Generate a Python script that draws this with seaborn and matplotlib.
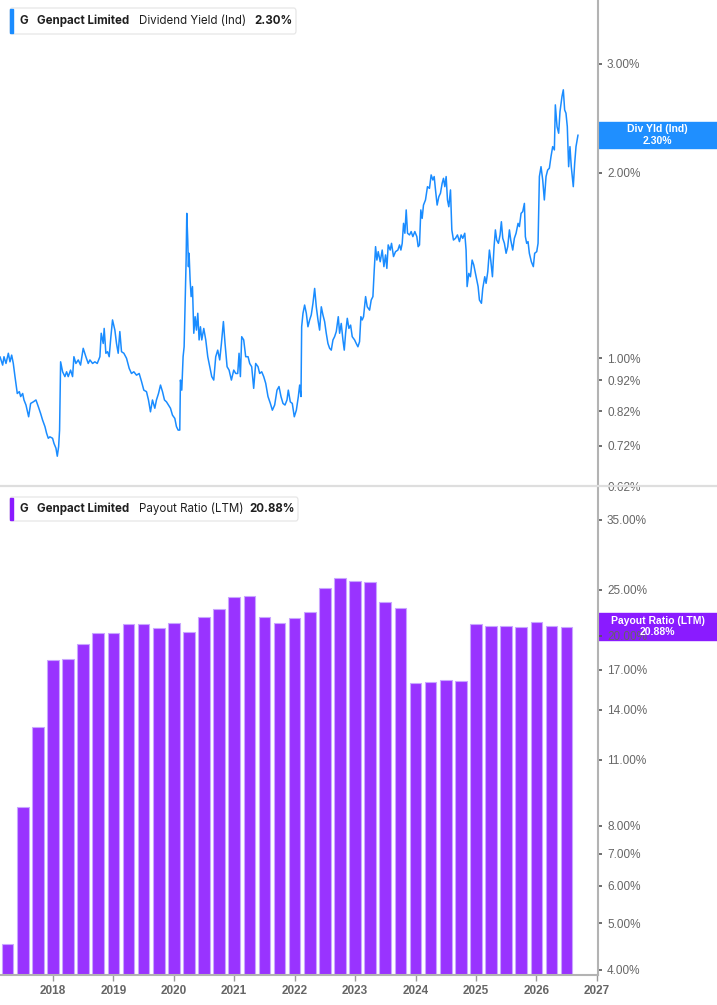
import matplotlib
matplotlib.use("Agg")
import matplotlib.pyplot as plt
import seaborn as sns
from matplotlib.patches import Rectangle, FancyBboxPatch
from matplotlib.lines import Line2D
from matplotlib.ticker import FixedLocator, NullLocator, FuncFormatter

# ---------------- data ----------------
yield_years = [
    2017.124, 2017.168, 2017.190, 2017.223, 2017.262, 2017.289, 2017.317, 2017.344, 2017.372, 2017.410,
    2017.444, 2017.466, 2017.499, 2017.521, 2017.554, 2017.598, 2017.631, 2017.675, 2017.719, 2017.758,
    2017.796, 2017.829, 2017.868, 2017.895, 2017.923, 2017.950, 2017.994, 2018.017, 2018.050, 2018.072,
    2018.094, 2018.110, 2018.127, 2018.160, 2018.198, 2018.226, 2018.253, 2018.292, 2018.325, 2018.347,
    2018.380, 2018.419, 2018.457, 2018.501, 2018.545, 2018.584, 2018.612, 2018.656, 2018.694, 2018.733,
    2018.777, 2018.799, 2018.832, 2018.848, 2018.876, 2018.904, 2018.931, 2018.959, 2018.986, 2019.025,
    2019.052, 2019.080, 2019.107, 2019.135, 2019.174, 2019.218, 2019.262, 2019.300, 2019.339, 2019.383,
    2019.427, 2019.466, 2019.504, 2019.548, 2019.581, 2019.614, 2019.647, 2019.686, 2019.713, 2019.747,
    2019.780, 2019.813, 2019.846, 2019.879, 2019.912, 2019.945, 2019.978, 2020.017, 2020.044, 2020.072,
    2020.099, 2020.110, 2020.132, 2020.154, 2020.171, 2020.187, 2020.204, 2020.215, 2020.231, 2020.242,
    2020.253, 2020.270, 2020.287, 2020.309, 2020.331, 2020.353, 2020.375, 2020.397, 2020.419, 2020.441,
    2020.463, 2020.496, 2020.529, 2020.562, 2020.595, 2020.628, 2020.661, 2020.694, 2020.727, 2020.760,
    2020.788, 2020.821, 2020.848, 2020.882, 2020.915, 2020.953, 2020.992, 2021.025, 2021.058, 2021.080,
    2021.102, 2021.124, 2021.157, 2021.190, 2021.229, 2021.256, 2021.289, 2021.322, 2021.355, 2021.394,
    2021.421, 2021.455, 2021.488, 2021.521, 2021.559, 2021.598, 2021.631, 2021.669, 2021.708, 2021.741,
    2021.774, 2021.807, 2021.840, 2021.873, 2021.895, 2021.928, 2021.961, 2021.994, 2022.028, 2022.061,
    2022.083, 2022.105, 2022.116,
    2022.138, 2022.165, 2022.193, 2022.220, 2022.248, 2022.275, 2022.303, 2022.331, 2022.358, 2022.386,
    2022.413, 2022.441, 2022.468, 2022.496, 2022.523, 2022.551, 2022.579, 2022.606, 2022.634, 2022.661,
    2022.689, 2022.722, 2022.744, 2022.771, 2022.799, 2022.821, 2022.843, 2022.871, 2022.898, 2022.926,
    2022.953, 2022.992, 2023.019, 2023.047, 2023.074, 2023.096, 2023.118, 2023.140, 2023.174, 2023.201,
    2023.240, 2023.267, 2023.295, 2023.317, 2023.339, 2023.361, 2023.383, 2023.416, 2023.449, 2023.477,
    2023.504, 2023.526, 2023.548, 2023.581, 2023.603, 2023.636, 2023.669, 2023.708, 2023.736, 2023.758,
    2023.780, 2023.802, 2023.824, 2023.846, 2023.868, 2023.901, 2023.928, 2023.956, 2023.989, 2024.022,
    2024.044, 2024.066, 2024.088, 2024.110, 2024.132, 2024.165, 2024.198, 2024.231, 2024.259, 2024.287,
    2024.309, 2024.331, 2024.358, 2024.386, 2024.413, 2024.441, 2024.463, 2024.485, 2024.507, 2024.529,
    2024.551, 2024.579, 2024.601, 2024.628, 2024.661, 2024.694, 2024.727, 2024.755, 2024.782, 2024.815,
    2024.837, 2024.854, 2024.882, 2024.909, 2024.937, 2024.964, 2024.992, 2025.014, 2025.036, 2025.058,
    2025.091, 2025.113, 2025.146, 2025.168, 2025.196, 2025.223, 2025.245, 2025.273, 2025.300, 2025.322,
    2025.344, 2025.372, 2025.399, 2025.421, 2025.444, 2025.471, 2025.499, 2025.526, 2025.554, 2025.576,
    2025.609, 2025.636, 2025.664, 2025.697, 2025.719, 2025.747, 2025.774, 2025.802, 2025.818, 2025.840,
    2025.862, 2025.884, 2025.917, 2025.950, 2025.972, 2026.006, 2026.028, 2026.050, 2026.077, 2026.105,
    2026.132, 2026.160, 2026.187, 2026.215, 2026.242, 2026.270, 2026.298, 2026.314, 2026.342, 2026.369,
    2026.391, 2026.424, 2026.446, 2026.468, 2026.490, 2026.512, 2026.534, 2026.556, 2026.578, 2026.611,
    2026.634, 2026.656, 2026.689,
]
yield_pct = [
    1.005, 0.974, 1.005, 0.980, 1.018, 0.986, 1.011, 0.980, 0.933, 0.876,
    0.882, 0.866, 0.876, 0.855, 0.839, 0.803, 0.844, 0.849, 0.855, 0.834,
    0.813, 0.793, 0.774, 0.755, 0.741, 0.745, 0.741, 0.727, 0.714, 0.693,
    0.718, 0.764, 0.986, 0.950, 0.933, 0.950, 0.933, 0.956, 0.933, 1.005,
    0.980, 0.993, 0.974, 1.037, 1.005, 0.980, 0.993, 0.980, 0.986, 0.980,
    1.005, 1.097, 1.056, 1.117, 1.018, 1.024, 1.005, 1.083, 1.153, 1.110,
    1.056, 1.018, 1.104, 1.024, 1.018, 0.999, 0.962, 0.944, 0.950, 0.938,
    0.944, 0.916, 0.887, 0.882, 0.855, 0.818, 0.855, 0.829, 0.855, 0.876,
    0.904, 0.882, 0.855, 0.849, 0.839, 0.829, 0.808, 0.798, 0.774, 0.764,
    0.764, 0.921, 0.887, 1.005, 1.043, 1.211, 1.442, 1.717, 1.554, 1.407,
    1.479, 1.339, 1.258, 1.306, 1.097, 1.167, 1.110, 1.182, 1.070, 1.124,
    1.070, 1.117, 1.070, 1.005, 0.968, 0.933, 0.921, 1.005, 1.030, 0.993,
    1.056, 1.146, 1.056, 0.968, 0.956, 0.921, 0.956, 0.944, 0.944, 1.018,
    0.933, 1.083, 1.070, 1.005, 1.005, 0.980, 0.968, 0.893, 0.980, 0.968,
    0.944, 0.950, 0.933, 0.910, 0.866, 0.844, 0.823, 0.839, 0.887, 0.899,
    0.866, 0.844, 0.839, 0.855, 0.887, 0.849, 0.844, 0.803, 0.823, 0.866,
    0.904, 0.866, 1.124,
    1.182, 1.219, 1.182, 1.124, 1.153, 1.175, 1.227, 1.297, 1.211, 1.153,
    1.110, 1.211, 1.175, 1.146, 1.097, 1.056, 1.037, 1.030, 1.070, 1.083,
    1.104, 1.167, 1.097, 1.138, 1.070, 1.030, 1.097, 1.160, 1.117, 1.131,
    1.083, 1.070, 1.056, 1.043, 1.063, 1.167, 1.153, 1.167, 1.258, 1.211,
    1.196, 1.242, 1.258, 1.389, 1.516, 1.442, 1.488, 1.433, 1.497, 1.407,
    1.470, 1.398, 1.526, 1.497, 1.535, 1.461, 1.488, 1.497, 1.526, 1.497,
    1.535, 1.654, 1.594, 1.739, 1.594, 1.584, 1.604, 1.574, 1.604, 1.574,
    1.516, 1.526, 1.739, 1.685, 1.771, 1.805, 1.897, 1.885, 1.982, 1.945,
    1.970, 1.874, 1.771, 1.827, 1.851, 1.921, 1.957, 1.897, 1.970, 1.805,
    1.760, 1.874, 1.614, 1.554, 1.564, 1.584, 1.545, 1.584, 1.564, 1.594,
    1.497, 1.306, 1.372, 1.355, 1.442, 1.416, 1.372, 1.339, 1.306, 1.242,
    1.227, 1.297, 1.355, 1.322, 1.381, 1.497, 1.442, 1.355, 1.516, 1.614,
    1.554, 1.535, 1.584, 1.664, 1.564, 1.535, 1.479, 1.516, 1.614, 1.554,
    1.497, 1.564, 1.594, 1.654, 1.634, 1.717, 1.728, 1.782, 1.574, 1.535,
    1.545, 1.479, 1.433, 1.407, 1.479, 1.488, 1.535, 1.970, 2.044, 1.945,
    1.805, 1.970, 2.019, 2.032, 2.122, 2.203, 2.176, 2.575, 2.374, 2.316,
    2.511, 2.657, 2.724, 2.527, 2.496, 2.374, 2.044, 2.203, 2.044, 1.897,
    2.070, 2.203, 2.301,
]

bar_years = [
    2017.25, 2017.50, 2017.75, 2018.00, 2018.25, 2018.50, 2018.75, 2019.00,
    2019.25, 2019.50, 2019.75, 2020.00, 2020.25, 2020.50, 2020.75, 2021.00,
    2021.25, 2021.50, 2021.75, 2022.00, 2022.25, 2022.50, 2022.75, 2023.00,
    2023.25, 2023.50, 2023.75, 2024.00, 2024.25, 2024.50, 2024.75, 2025.00,
    2025.25, 2025.50, 2025.75, 2026.00, 2026.25, 2026.50,
]
payout_pct = [
    4.53, 8.78, 12.9, 17.8, 17.9, 19.2, 20.25, 20.3,
    21.2, 21.2, 20.8, 21.3, 20.4, 21.9, 22.8, 24.1,
    24.2, 21.9, 21.3, 21.8, 22.4, 25.2, 26.5, 26.0,
    25.9, 23.6, 22.9, 15.9, 16.0, 16.2, 16.1, 21.2,
    21.0, 21.0, 20.9, 21.4, 21.0, 20.88,
]

year_ticks = [2018, 2019, 2020, 2021, 2022, 2023, 2024, 2025, 2026, 2027]
yield_ticks = [0.62, 0.72, 0.82, 0.92, 1.00, 2.00, 3.00]
payout_ticks = [4, 5, 6, 7, 8, 11, 14, 17, 20, 25, 35]

company = "Genpact Limited"
ticker = "G"
yield_name = "Dividend Yield (Ind)"
yield_short = "Div Yld (Ind)"
payout_name = "Payout Ratio (LTM)"

# ---------------- style ----------------
LINE_C = "#1a8cff"
BAR_C = "#9933ff"
EDGE_C = "#c9a6ff"
PURPLE_BOX = "#8a1bff"
BLUE_BOX = "#1f8fff"
AXIS_C = "#b3b3b3"
LABEL_C = "#666666"

sns.set_theme(style="white")
plt.rcParams['font.family'] = ['Liberation Sans', 'DejaVu Sans']

W, H = 717, 1005
fig = plt.figure(figsize=(W / 100, H / 100), dpi=100)


def fx(p):
    return p / W


def fy(p):
    return 1 - p / H


ax1 = fig.add_axes([0, fy(486), fx(598), 486 / H])
ax2 = fig.add_axes([0, fy(975), fx(598), (975 - 487) / H])

XMIN, XMAX = 2017.124, 2027.02

sns.lineplot(x=yield_years, y=yield_pct, ax=ax1, color=LINE_C, linewidth=1.1,
             estimator=None, sort=False)
ax1.set_yscale('log')
ax1.set_ylim(0.62, 3.81)
ax1.set_xlim(XMIN, XMAX)

sns.barplot(x=bar_years, y=payout_pct, ax=ax2, native_scale=True, width=0.77,
            color=BAR_C, saturation=1, edgecolor=EDGE_C, linewidth=0.8,
            errorbar=None)
ax2.set_yscale('log')
ax2.set_ylim(3.90, 41.0)
ax2.set_xlim(XMIN, XMAX)

pct_fmt = FuncFormatter(lambda v, p: f"{v:.2f}%")
for ax, ticks in ((ax1, yield_ticks), (ax2, payout_ticks)):
    ax.set_xlabel("")
    ax.set_ylabel("")
    ax.grid(False)
    ax.yaxis.tick_right()
    ax.yaxis.set_major_locator(FixedLocator(ticks))
    ax.yaxis.set_minor_locator(NullLocator())
    ax.yaxis.set_major_formatter(pct_fmt)
    ax.tick_params(axis='y', which='major', direction='out', length=3, width=1.2,
                   color='#555555', labelsize=8.5, labelcolor=LABEL_C, pad=3.5,
                   right=True, left=False, labelright=True, labelleft=False)
    ax.tick_params(axis='y', which='minor', right=False, left=False)
    for s in ('top', 'left'):
        ax.spines[s].set_visible(False)
    ax.spines['right'].set_color(AXIS_C)
    ax.spines['right'].set_linewidth(1.5)

ax1.spines['bottom'].set_visible(False)
ax1.tick_params(axis='x', bottom=False, labelbottom=False)

ax2.spines['bottom'].set_color(AXIS_C)
ax2.spines['bottom'].set_linewidth(1.5)
ax2.xaxis.set_major_locator(FixedLocator(year_ticks))
ax2.xaxis.set_minor_locator(NullLocator())
ax2.set_xticklabels([str(y) for y in year_ticks])
ax2.tick_params(axis='x', which='major', direction='out', length=4, width=1,
                color='#999999', labelsize=8.5, labelcolor=LABEL_C, pad=3,
                bottom=True)
for lbl in ax2.get_xticklabels():
    lbl.set_fontweight('bold')

# separator between panels
fig.add_artist(Line2D([0, 1], [fy(486), fy(486)], transform=fig.transFigure,
                      color='#dedede', linewidth=1.6, zorder=4))


def header(y_top, y_bot, x_right, accent, parts):
    box = FancyBboxPatch((fx(10), fy(y_bot)), fx(x_right - 10), (y_bot - y_top) / H,
                         boxstyle="round,pad=0,rounding_size=0.003",
                         transform=fig.transFigure, fc='white', ec='#e4e4e4',
                         lw=0.8, zorder=5)
    fig.add_artist(box)
    fig.add_artist(Rectangle((fx(10), fy(y_bot - 1)), fx(3), (y_bot - y_top - 2) / H,
                             transform=fig.transFigure, color=accent, zorder=6))
    yc = fy((y_top + y_bot) / 2)
    for x, s, w in parts:
        fig.text(fx(x), yc, s, fontweight=w, family=['Inter', 'DejaVu Sans'],
                 fontsize=8.3, color='#1f1f1f', va='center', ha='left', zorder=7)


header(8, 34, 296, LINE_C,
       [(20, ticker, 'bold'), (37, company, 'bold'),
        (139, yield_name, 'normal'), (254, f"{yield_pct[-1]:.2f}%", 'bold')])
header(497, 521, 298, PURPLE_BOX,
       [(20, ticker, 'bold'), (37, company, 'bold'),
        (139, payout_name, 'normal'), (249, f"{payout_pct[-1]:.2f}%", 'bold')])


def value_tag(y_top, y_bot, color, line1, line2):
    fig.add_artist(Rectangle((fx(598), fy(y_bot)), fx(119), (y_bot - y_top) / H,
                             transform=fig.transFigure, color=color, zorder=-1))
    mid = (y_top + y_bot) / 2
    fig.text(fx(657.5), fy(mid - 5.5), line1, color='white', fontweight='bold',
             fontsize=7.5, ha='center', va='center', zorder=7)
    fig.text(fx(657.5), fy(mid + 5.5), line2, color='white', fontweight='bold',
             fontsize=7.5, ha='center', va='center', zorder=7)


value_tag(122, 148, BLUE_BOX, yield_short, f"{yield_pct[-1]:.2f}%")
value_tag(613, 640, PURPLE_BOX, payout_name, f"{payout_pct[-1]:.2f}%")

fig.savefig("out.png", dpi=100)
